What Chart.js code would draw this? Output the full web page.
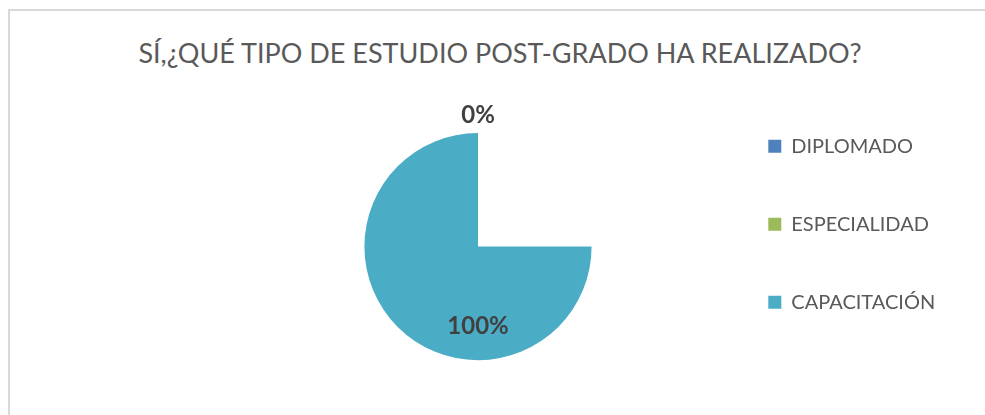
<!DOCTYPE html>
<html>
<head>
<meta charset="utf-8">
<script src="https://cdn.jsdelivr.net/npm/chart.js@4.4.0/dist/chart.umd.min.js"></script>
<style>
  html, body { margin: 0; padding: 0; background: #ffffff; }
  #wrap { position: relative; width: 985px; height: 415px; overflow: hidden; background: #fff; }
  #frame { position: absolute; left: 8px; top: 9px; width: 1000px; height: 420px;
           border-left: 2px solid #d9d9d9; border-top: 2px solid #d9d9d9; box-sizing: border-box; }
  #title { position: absolute; left: 0; width: 1000px; top: 37px; text-align: center;
           font-family: Lato, "Open Sans", sans-serif; font-size: 27px; line-height: 1.2;
           color: #595959; white-space: nowrap; }
  canvas { position: absolute; left: 0; top: 0; }
</style>
</head>
<body>
<div id="wrap">
  <div id="frame"></div>
  <div id="title">SÍ,¿QUÉ TIPO DE ESTUDIO POST-GRADO HA REALIZADO?</div>
  <canvas id="c" width="985" height="415"></canvas>
</div>
<script>
// ---- data ----
const categories = ['DIPLOMADO', 'ESPECIALIDAD', 'CAPACITACIÓN'];
const percentages = [0, 0, 100];
const sliceColors = ['#4F81BD', '#9BBB59', '#4BACC6'];

// slice value labels (Excel-style: inside for filled slice, outside for zero slices)
const sliceLabels = {
  id: 'sliceLabels',
  afterDatasetsDraw(chart) {
    const meta = chart.getDatasetMeta(0);
    const values = chart.data.datasets[0].data;
    const total = values.reduce((a, b) => a + b, 0);
    const ctx = chart.ctx;
    const size = 24;
    ctx.save();
    ctx.font = 'bold ' + size + 'px Lato, "Open Sans", sans-serif';
    ctx.fillStyle = '#404040';
    ctx.textAlign = 'center';
    ctx.textBaseline = 'alphabetic';
    let cum = 0;
    const seen = new Set();
    meta.data.forEach((arc, i) => {
      const v = values[i];
      const ang = -Math.PI / 2 + ((cum + v / 2) / total) * 2 * Math.PI;
      const r = v > 0 ? arc.outerRadius * 0.693 : arc.outerRadius + 19;
      const x = arc.x + Math.cos(ang) * r;
      const y = arc.y + Math.sin(ang) * r;
      const key = Math.round(x) + ',' + Math.round(y);
      if (!seen.has(key)) {
        seen.add(key);
        ctx.fillText(Math.round(v / total * 100) + '%', x, y + size * 0.358);
      }
      cum += v;
    });
    ctx.restore();
  }
};

// legend geometry: box column starts at LEGEND_X; pie centred at PIE_CX
const LEGEND_FONT = 20, LEGEND_PAD = 58, BOX = 13;
const LEGEND_X = 768.3, PIE_CX = 478;
const legendLeft = LEGEND_X - LEGEND_PAD;
const mctx = document.createElement('canvas').getContext('2d');
mctx.font = LEGEND_FONT + 'px Lato, "Open Sans", sans-serif';
const maxText = Math.max(...categories.map(t => mctx.measureText(t).width));
const legendWidth = LEGEND_PAD + BOX + LEGEND_FONT / 2 + maxText + 10;
const padRight = 985 - legendLeft - legendWidth;
const padLeft = 2 * PIE_CX - legendLeft;

new Chart(document.getElementById('c'), {
  type: 'pie',
  data: {
    labels: categories,
    datasets: [{
      data: percentages,
      backgroundColor: sliceColors,
      borderWidth: 0,
      radius: 113.6
    }]
  },
  options: {
    responsive: false,
    animation: false,
    events: [],
    rotation: 90,
    circumference: 270,
    layout: { padding: { top: 78.2, bottom: -7.8, left: padLeft, right: padRight } },
    plugins: {
      title: { display: false },
      tooltip: { enabled: false },
      legend: {
        position: 'right',
        align: 'start',
        fullSize: true,
        labels: {
          boxWidth: BOX,
          boxHeight: BOX,
          padding: LEGEND_PAD,
          color: '#595959',
          font: { family: 'Lato, "Open Sans", sans-serif', size: LEGEND_FONT }
        }
      }
    }
  },
  plugins: [sliceLabels]
});
</script>
</body>
</html>
